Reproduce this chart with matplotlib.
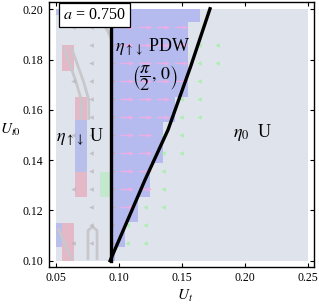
import numpy as np
import matplotlib
matplotlib.use("Agg")
import matplotlib.pyplot as plt
from matplotlib.patches import Rectangle

plt.rcParams['font.family'] = ['Liberation Serif', 'DejaVu Serif']
plt.rcParams['mathtext.fontset'] = 'stix'

# phase boundary
ut_line = [0.093, 0.1207, 0.1390, 0.1570, 0.1724]
ut0_line = [0.100, 0.1321, 0.1520, 0.1772, 0.2002]
ut_vert = 0.0935

# PDW (blue) region, staircase rows: bottom/top edges and right edge
pdw_y = [0.100, 0.1055, 0.1155, 0.1255, 0.139, 0.155, 0.165, 0.195, 0.200]
pdw_right = [0.097, 0.105, 0.115, 0.125, 0.135, 0.1445, 0.155, 0.1645]

# faded blocks in the left part (x0, x1, y0, y1, kind)
blk_x0 = [0.0548, 0.0651, 0.0651, 0.0651, 0.0850, 0.0500, 0.0548, 0.0500]
blk_x1 = [0.0643, 0.0746, 0.0746, 0.0746, 0.0929, 0.0548, 0.0643, 0.0556]
blk_y0 = [0.1755, 0.1560, 0.1353, 0.1254, 0.1254, 0.1055, 0.1000, 0.1978]
blk_y1 = [0.1859, 0.1652, 0.1560, 0.1353, 0.1353, 0.1150, 0.1150, 0.2000]
blk_kind = ['r', 'r', 'b', 'r', 'g', 'b', 'r', 'b']

# faint gray lines of the underlying diagram
gray_lines = [
    ([0.0770, 0.0929], [0.2000, 0.1906]),
    ([0.0826, 0.0945], [0.2000, 0.1877]),
    ([0.0560, 0.0660, 0.0700, 0.0700], [0.1850, 0.1710, 0.1640, 0.1560]),
    ([0.0620, 0.0720, 0.0760, 0.0760], [0.1850, 0.1710, 0.1640, 0.1560]),
    ([0.0516, 0.0627], [0.1130, 0.1003]),
    ([0.0754, 0.0754, 0.0790, 0.0826, 0.0826], [0.1003, 0.1120, 0.1135, 0.1120, 0.1003]),
]

# arrow grid
arrow_x = [0.0636, 0.0778, 0.0921, 0.1064, 0.1207, 0.1350, 0.1493, 0.1636, 0.1779]
arrow_y = [0.1071, 0.1143, 0.1214, 0.1286, 0.1357, 0.1429, 0.1500,
           0.1571, 0.1643, 0.1714, 0.1786, 0.1857, 0.1929]

bg_col = '#dfe4ec'
blue_col = '#b6bbef'
colors = {'r': '#e4b8c6', 'b': '#b9bfeb', 'g': '#c4e8cd'}

fig = plt.figure(figsize=(3.19, 3.05), dpi=100)
ax = fig.add_axes([0.1536, 0.1256, 0.8304, 0.8688])

ax.add_patch(Rectangle((0.05, 0.10), 0.20, 0.10, color=bg_col, lw=0, zorder=0))

for i in range(len(blk_kind)):
    ax.add_patch(Rectangle((blk_x0[i], blk_y0[i]), blk_x1[i] - blk_x0[i],
                           blk_y1[i] - blk_y0[i], color=colors[blk_kind[i]],
                           lw=0, zorder=1))

for xs, ys in gray_lines:
    ax.plot(xs, ys, color='#c8c8cc', lw=2.0, solid_capstyle='butt', zorder=1.5)

for i in range(len(pdw_right)):
    ax.add_patch(Rectangle((ut_vert, pdw_y[i]), pdw_right[i] - ut_vert,
                           pdw_y[i + 1] - pdw_y[i], color=blue_col, lw=0, zorder=2))

# arrows
for j, y in enumerate(arrow_y):
    cx = np.interp(y, ut0_line, ut_line)
    row = np.searchsorted(pdw_y, y) - 1
    for x in arrow_x:
        if x < ut_vert:
            if x > 0.09:
                ax.plot(x + 0.0035, y, marker='>', ms=3.5, color='#c4abc0', mec='none', zorder=3)
            elif x > 0.07 or j % 3 == 0:
                ax.plot(x, y, marker='<', ms=3.3, color='#b8b2b8', mec='none',
                        alpha=0.7, zorder=3)
        elif x < pdw_right[row]:
            ax.plot([x - 0.005, x + 0.002], [y, y], color='#f0ade4', lw=0.9, zorder=3)
            ax.plot(x + 0.003, y, marker='>', ms=3.3, color='#f0ade4', mec='none', zorder=3)
        elif x < cx + 0.025 and y < 0.19:
            ax.plot(x, y, marker='<', ms=3.3, color='#aeeeb0', mec='none', zorder=3)

ax.plot([ut_vert, ut_vert], [0.100, 0.200], color='black', lw=2.4, zorder=4)
ax.plot(ut_line, ut0_line, color='black', lw=2.4, zorder=4)

ax.text(0.0806, 0.1978, r'$a$ = 0.750', fontsize=11.5, ha='center', va='center',
        bbox=dict(boxstyle='square,pad=0.25', fc='white', ec='black', lw=0.9), zorder=5)
ax.text(0.1271, 0.1850, r'$\eta_{\uparrow\downarrow}$ PDW', fontsize=13,
        ha='center', va='center', zorder=5)
ax.text(0.1287, 0.1725, r'$\left(\dfrac{\pi}{2},\,0\right)$', fontsize=13,
        ha='center', va='center', zorder=5)
ax.text(0.0691, 0.1492, r'$\eta_{\uparrow\downarrow}$ U', fontsize=13,
        ha='center', va='center', zorder=5)
ax.text(0.2066, 0.1508, r'$\eta_0$  U', fontsize=13, ha='center', va='center', zorder=5)

ax.set_xlim(0.0444, 0.2550)
ax.set_ylim(0.0976, 0.2030)
ax.set_xticks([0.05, 0.10, 0.15, 0.20, 0.25])
ax.set_yticks([0.10, 0.12, 0.14, 0.16, 0.18, 0.20])
ax.xaxis.set_major_formatter(matplotlib.ticker.FormatStrFormatter('%.2f'))
ax.yaxis.set_major_formatter(matplotlib.ticker.FormatStrFormatter('%.2f'))
ax.tick_params(direction='in', length=3, width=0.8, labelsize=8.5, pad=4,
               top=True, right=True)
for s in ax.spines.values():
    s.set_linewidth(1.0)

fig.text(0.0, 0.574, r'$U_{t0}$', fontsize=11, ha='left', va='center')
fig.text(0.58, 0.030, r'$U_t$', fontsize=11, ha='center', va='center')

fig.savefig('out.png', dpi=100)
